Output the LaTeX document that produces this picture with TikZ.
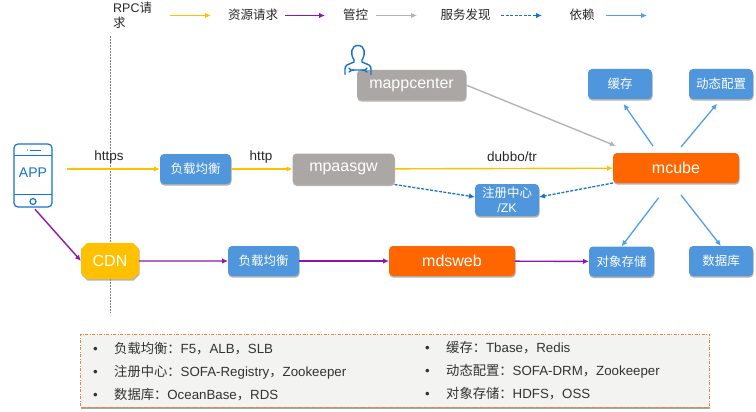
\documentclass[tikz,border=0pt]{standalone}
\usepackage{fontspec}
\setmainfont{Liberation Sans}
\newfontfamily\cjk{Noto Sans CJK SC}
\usetikzlibrary{arrows.meta,shadows,shapes.misc}
\definecolor{boxblue}{HTML}{4F96DC}
\definecolor{boxgray}{HTML}{ABA7A5}
\definecolor{boxorange}{HTML}{FF6600}
\definecolor{rpcyellow}{HTML}{FFC000}
\definecolor{respurple}{HTML}{8A17B0}
\definecolor{ctlgray}{HTML}{B4B4B4}
\definecolor{sdblue}{HTML}{1573CC}
\definecolor{depblue}{HTML}{529FE6}
\definecolor{panelfill}{HTML}{F3F3F2}
\definecolor{paneledge}{HTML}{E8853A}
\newcommand{\panelitem}[1]{\makebox[21pt][l]{•}#1}
\begin{document}
\begin{tikzpicture}[x=1pt,y=-1pt,
   tip/.style={-{Latex[length=6pt,width=5.5pt]}},
   rpc/.style={tip,draw=rpcyellow,line width=1.4pt},
   res/.style={tip,draw=respurple,line width=1.4pt},
   ctl/.style={tip,draw=ctlgray,line width=1.4pt},
   sd/.style={tip,draw=sdblue,line width=1.3pt,dash pattern=on 3pt off 1.5pt},
   dep/.style={tip,draw=depblue,line width=1.3pt},
   box/.style={rounded corners=4pt,text=white,inner sep=0pt,outer sep=0pt,minimum height=30pt,
      drop shadow={shadow xshift=0.5pt,shadow yshift=-1.6pt,opacity=.6}},
   bluebox/.style={box,fill=boxblue,minimum width=64pt,font=\cjk\fontsize{12.5}{15}\selectfont},
   graybox/.style={box,fill=boxgray,font=\fontsize{16}{18}\selectfont},
   orangebox/.style={box,fill=boxorange,minimum width=126pt,font=\fontsize{16}{18}\selectfont},
   legend/.style={font=\cjk\fontsize{12.5}{15}\selectfont,text=black!85,inner sep=0pt},
   proto/.style={font=\fontsize{13.5}{16}\selectfont,text=black!85,inner sep=0pt},
   item/.style={anchor=west,inner sep=0pt,font=\fontsize{13.3}{15}\selectfont,text=black!80}]
\useasboundingbox (0,0) rectangle (756,412);

% legend
\node[legend,anchor=west,align=left,font=\fontsize{12.5}{15}\selectfont] (lgrpc) at (113,15) {RPC{\cjk 请}\\{\cjk 求}};
\node[legend] (lgres) at (253,15) {资源请求};
\node[legend] (lgctl) at (355.5,15) {管控};
\node[legend] (lgsd) at (465.5,15) {服务发现};
\node[legend] (lgdep) at (582,15) {依赖};
\foreach \name/\sty/\xa/\xb in {rpc/rpc/170/211,res/res/285/325,ctl/ctl/376/417,sd/sd/501/542,dep/dep/606/647} {
	\coordinate (\name a) at (\xa,15.5);
	\coordinate (\name b) at (\xb,15.5);
	\draw[\sty] (\name a) -- (\name b);
}

% divider
\coordinate (sepa) at (110,36);
\coordinate (sepb) at (110,313);
\draw[black!50,line width=0.9pt,dash pattern=on 2pt off 1pt] (sepa) -- (sepb);

% phone
\node[draw=sdblue,line width=1.2pt,rounded corners=4pt,minimum width=38pt,minimum height=63pt,inner sep=0pt,outer sep=0pt] (phone) at (33,175.5) {};
\node[text=sdblue,font=\fontsize{14}{16}\selectfont,inner sep=0pt] (app) at (33,173) {APP};
\draw[sdblue,line width=1pt] (phone.west |- 0,155) -- (phone.east |- 0,155);
\draw[sdblue,line width=1pt] (phone.west |- 0,194) -- (phone.east |- 0,194);
\draw[sdblue,line width=1pt] (30,150) -- (40.5,150);
\fill[sdblue] (27.5,150) circle (0.7pt);
\draw[sdblue,line width=1.2pt] (33,201.5) circle (3pt);

% services
\node[graybox,minimum width=109pt] (center) at (411.5,85) {mappcenter};
\node[bluebox] (cache) at (620,84) {缓存};
\node[bluebox] (conf) at (721,84) {动态配置};
\node[bluebox,minimum width=71pt] (lba) at (195.5,169) {负载均衡};
\node[graybox,minimum width=102pt,minimum height=31pt] (gw) at (343.5,169) {mpaasgw};
\node[orangebox] (mcube) at (676,168) {mcube};
\node[bluebox,minimum height=32pt,align=center] (reg) at (507,200) {注册中心\\{\fontspec{Liberation Sans}/ZK}};
\node[box,chamfered rectangle,chamfered rectangle xsep=3pt,chamfered rectangle ysep=3pt,rounded corners=0pt,fill=rpcyellow,
	minimum width=58pt,minimum height=36pt,font=\fontsize{16}{18}\selectfont] (cdn) at (110,261) {CDN};
\node[bluebox,minimum width=71pt] (lbb) at (263.5,261) {负载均衡};
\node[orangebox] (web) at (452,261) {mdsweb};
\node[bluebox,minimum width=65pt] (oss) at (621.5,261.5) {对象存储};
\node[bluebox] (db) at (721,261) {数据库};

% operator
\begin{scope}[line width=1.4pt,line cap=round]
	\draw[sdblue] (354,60) .. controls (350,54) and (351,45.5) .. (358,45.5)
		.. controls (365,45.5) and (366,54) .. (362,60)
		-- (362,62) -- (369,65) .. controls (370.5,66) and (371,67) .. (371,69) -- (371,74.5);
	\draw[sdblue] (354,60) -- (354,62) -- (347,65) .. controls (345.5,66) and (345,67) .. (345,69) -- (345,74.5);
	\draw[sdblue] (349,68) .. controls (350,71) and (352,70.5) .. (354,70) -- (362,70) .. controls (364,70.5) and (366,71) .. (367,68);
	\draw[sdblue] (349,72) .. controls (350,70.5) and (352,70) .. (354,70);
	\draw[sdblue] (367,72) .. controls (366,70.5) and (364,70) .. (362,70);
\end{scope}

% protocols
\node[proto] (https) at (109,157) {https};
\node[proto] (http) at (261,157) {http};
\node[proto] (dubbo) at (512,157) {dubbo/tr};

% rpc
\draw[rpc,shorten <=15pt] (phone.east |- lba.west) -- (lba.west);
\draw[rpc] (lba) -- (gw);
\draw[rpc] (gw) -- (mcube);

% resources
\draw[res,shorten <=3pt] (phone.south) -- (cdn.west);
\draw[res] (cdn) -- (lbb);
\draw[res] (lbb) -- (web);
\draw[res] (web) -- (oss);

% control and discovery
\coordinate (mcubein) at (616,146);
\draw[ctl] (center.east) -- (mcubein);
\draw[sd] (gw.south east) -- (reg.west |- 0,197);
\draw[sd] (mcube.south west) -- (reg.east |- 0,197);

% dependencies
\coordinate (mcubenw) at (653,146);
\coordinate (mcubene) at (681,147);
\coordinate (mcubesw) at (658.7,197.7);
\coordinate (mcubese) at (681,195);
\draw[dep,shorten >=6pt] (mcubenw) -- (cache.south);
\draw[dep,shorten >=6pt] (mcubene) -- (conf.south);
\draw[dep] (mcubesw) -- (oss.north);
\draw[dep] (mcubese) -- (db.north);

% notes
\node[draw=paneledge,fill=panelfill,line width=1pt,dash pattern=on 3pt off 1.5pt on 1pt off 1.5pt,inner sep=0pt,
	minimum width=629pt,minimum height=73pt,drop shadow={shadow xshift=0.5pt,shadow yshift=-1.6pt,opacity=.7}] (notes) at (395,370.5) {};
\node[item] (itema) at (93,349) {\panelitem{{\cjk 负载均衡：}F5{\cjk ，}ALB{\cjk ，}SLB}};
\node[item] (itemb) at (93,372) {\panelitem{{\cjk 注册中心：}SOFA-Registry{\cjk ，}Zookeeper}};
\node[item] (itemc) at (93,395) {\panelitem{{\cjk 数据库：}OceanBase{\cjk ，}RDS}};
\node[item] (itemd) at (425,348) {\panelitem{{\cjk 缓存：}Tbase{\cjk ，}Redis}};
\node[item] (iteme) at (425,371) {\panelitem{{\cjk 动态配置：}SOFA-DRM{\cjk ，}Zookeeper}};
\node[item] (itemf) at (425,394) {\panelitem{{\cjk 对象存储：}HDFS{\cjk ，}OSS}};
\end{tikzpicture}
\end{document}
